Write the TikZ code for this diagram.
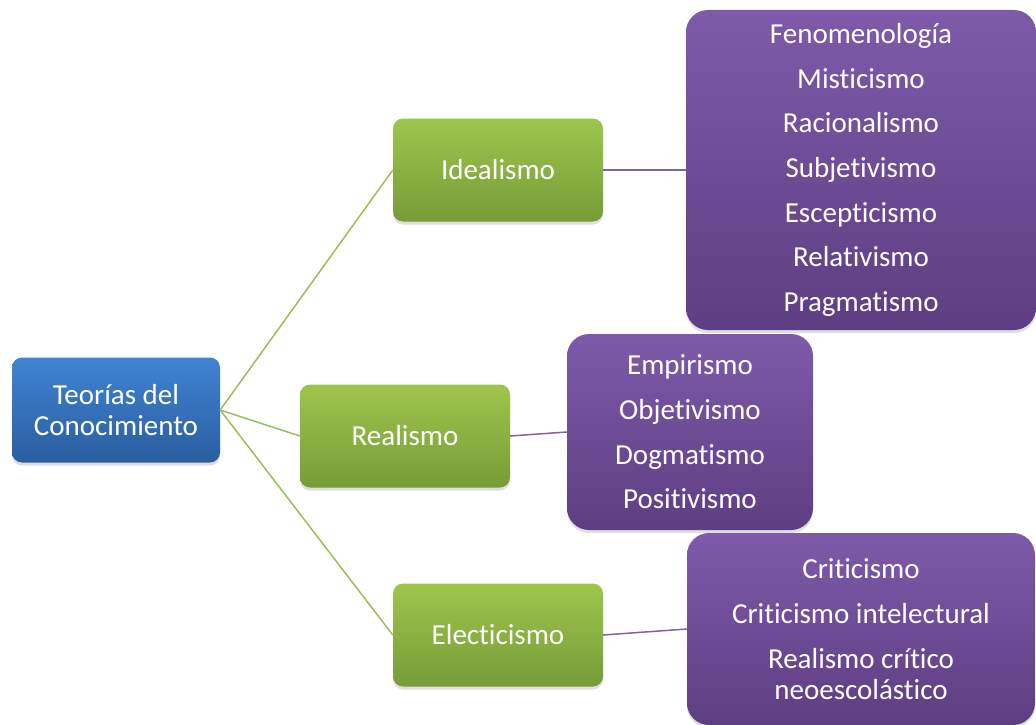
\documentclass[tikz,border=0pt]{standalone}
\usepackage{fontspec}
\setmainfont{Carlito}[Ligatures = NoCommon]
\usepackage{tikz}
\usetikzlibrary{shadows}
\tikzset{>=latex}
\definecolor{bluetop}{RGB}{64, 131, 210}
\definecolor{bluebot}{RGB}{42, 94, 160}
\definecolor{greentop}{RGB}{158, 198, 76}
\definecolor{greenbot}{RGB}{118, 156, 56}
\definecolor{purptop}{RGB}{126, 90, 170}
\definecolor{purpbot}{RGB}{94, 62, 130}
\definecolor{greenline}{RGB}{155, 190, 90}
\definecolor{purpline}{RGB}{128, 100, 162}
\tikzset{
  box/.style = {rounded corners = 10pt, inner sep = 0pt, align = center, text = white,
                font = \fontsize{29}{31}\selectfont,
                drop shadow = {shadow xshift = 0pt, shadow yshift = -3pt, opacity = 0.25}},
  rootbox/.style = {box, top color = bluetop, bottom color = bluebot,
                    minimum width = 208pt, minimum height = 105pt},
  branchbox/.style = {box, top color = greentop, bottom color = greenbot,
                      minimum width = 210pt, minimum height = 103pt},
  leafbox/.style = {box, rounded corners = 22pt, top color = purptop, bottom color = purpbot},
  branchline/.style = {line width = 1.5pt, color = greenline},
  leafline/.style = {line width = 1.5pt, color = purpline}
}

\begin{document}
\begin{tikzpicture}[x = 1pt, y = -1pt]

\useasboundingbox (0,0) rectangle (1036,725);

\node[rootbox] (teorias) at (116,410) {Teorías del\\Conocimiento};

\node[branchbox] (ideal) at (498,170) {Idealismo};
\node[branchbox] (real)  at (405,436) {Realismo};
\node[branchbox] (elect) at (498,635) {Electicismo};

\node[leafbox, minimum width = 350pt, minimum height = 320pt] (idealist) at (861,170)
  {Fenomenología\\[13.7pt] Misticismo\\[13.7pt] Racionalismo\\[13.7pt] Subjetivismo\\[13.7pt]
   Escepticismo\\[13.7pt] Relativismo\\[13.7pt] Pragmatismo};
\node[leafbox, minimum width = 246pt, minimum height = 196pt] (reallist) at (690,432)
  {Empirismo\\[13.7pt] Objetivismo\\[13.7pt] Dogmatismo\\[13.7pt] Positivismo};
\node[leafbox, minimum width = 348pt, minimum height = 192pt] (electlist) at (861,629)
  {Criticismo\\[13.7pt] Criticismo intelectural\\[13.7pt] Realismo crítico\\ neoescolástico};

\draw[branchline] (teorias.east) -- (ideal.west);
\draw[branchline] (teorias.east) -- (real.west);
\draw[branchline] (teorias.east) -- (elect.west);

\draw[leafline] (ideal.east) -- (idealist.west);
\draw[leafline] (real.east)  -- (reallist.west);
\draw[leafline] (elect.east) -- (electlist.west);

\end{tikzpicture}
\end{document}
